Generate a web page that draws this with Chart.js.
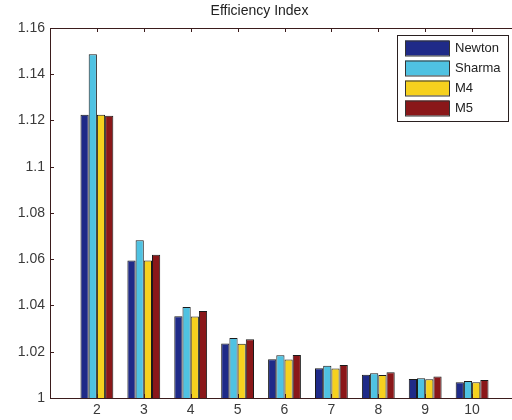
<!DOCTYPE html>
<html>
<head>
<meta charset="utf-8">
<script src="https://cdn.jsdelivr.net/npm/chart.js@4.4.1/dist/chart.umd.min.js"></script>
<style>
  html, body { margin: 0; padding: 0; background: #fff; overflow: hidden; }
  #wrap { width: 522px; height: 420px; }
</style>
</head>
<body>
<div id="wrap"><canvas id="mychart" width="522" height="420"></canvas></div>
<script>
// data
const categories = [2, 3, 4, 5, 6, 7, 8, 9, 10];
const newton = [1.1225, 1.0595, 1.0353, 1.0236, 1.0168, 1.0129, 1.0101, 1.0082, 1.0068];
const sharma = [1.1487, 1.0682, 1.0394, 1.0260, 1.0185, 1.0140, 1.0107, 1.0085, 1.0074];
const m4 = [1.1225, 1.0595, 1.0352, 1.0235, 1.0166, 1.0128, 1.0100, 1.0081, 1.0068];
const m5 = [1.1221, 1.0620, 1.0376, 1.0254, 1.0186, 1.0143, 1.0111, 1.0093, 1.0078];
const yTicks = [1, 1.02, 1.04, 1.06, 1.08, 1.1, 1.12, 1.14, 1.16];

const axisColor = '#3b1c1c';
const textColor = '#3a3a3a';

function series(vals) {
  return categories.map((c, i) => ({ x: c, y: vals[i] }));
}

// box, inward ticks and legend like the matlab figure
const matlabFrame = {
  id: 'matlabFrame',
  afterDraw(chart) {
    const ctx = chart.ctx;
    const a = chart.chartArea;
    const xs = chart.scales.x;
    const ys = chart.scales.y;
    ctx.save();
    ctx.strokeStyle = axisColor;
    ctx.lineWidth = 1;
    ctx.strokeRect(a.left + 0.5, a.top + 0.5, a.right - a.left, a.bottom - a.top);
    ctx.beginPath();
    categories.forEach(c => {
      const px = Math.round(xs.getPixelForValue(c)) + 0.5;
      ctx.moveTo(px, a.top);
      ctx.lineTo(px, a.top + 4);
      ctx.moveTo(px, a.bottom);
      ctx.lineTo(px, a.bottom - 4);
    });
    yTicks.forEach(v => {
      const py = Math.round(ys.getPixelForValue(v)) + 0.5;
      ctx.moveTo(a.left, py);
      ctx.lineTo(a.left + 4, py);
      ctx.moveTo(a.right, py);
      ctx.lineTo(a.right - 4, py);
    });
    ctx.stroke();

    // legend
    const bx = a.right - 122, by = a.top + 7, bw = 111, bh = 86;
    ctx.fillStyle = '#fff';
    ctx.fillRect(bx, by, bw, bh);
    ctx.strokeStyle = '#2a2020';
    ctx.strokeRect(bx + 0.5, by + 0.5, bw, bh);
    ctx.font = '13px "Liberation Sans", Arial, sans-serif';
    ctx.textBaseline = 'middle';
    chart.data.datasets.forEach((ds, i) => {
      const cy = by + 12.5 + i * 20;
      ctx.fillStyle = ds.backgroundColor;
      ctx.fillRect(bx + 8, cy - 7, 44, 15);
      ctx.strokeStyle = '#333';
      ctx.strokeRect(bx + 8.5, cy - 6.5, 44, 15);
      ctx.fillStyle = '#222';
      ctx.fillText(ds.label, bx + 58, cy + 1);
    });
    ctx.restore();
  }
};

const ctx1 = document.getElementById('mychart');
const chart1 = new Chart(ctx1, {
  type: 'bar',
  data: {
    datasets: [
      { label: 'Newton', data: series(newton), backgroundColor: '#1f2a88' },
      { label: 'Sharma', data: series(sharma), backgroundColor: '#4fc2e2' },
      { label: 'M4', data: series(m4), backgroundColor: '#f6d11e' },
      { label: 'M5', data: series(m5), backgroundColor: '#8a1719' }
    ]
  },
  options: {
    responsive: false,
    animation: false,
    layout: { padding: { left: 0, right: 3, top: 0, bottom: 0 } },
    datasets: {
      bar: {
        categoryPercentage: 0.7,
        barPercentage: 1.0,
        borderColor: '#1a1a1a',
        borderWidth: 1,
        borderSkipped: 'bottom'
      }
    },
    plugins: {
      legend: { display: false },
      tooltip: { enabled: false },
      title: {
        display: true,
        text: 'Efficiency Index',
        color: '#222',
        font: { family: '"Liberation Sans", Arial, sans-serif', size: 14, weight: 'normal', lineHeight: 1.2 },
        padding: { top: 3, bottom: 8.2 }
      }
    },
    scales: {
      x: {
        type: 'linear',
        min: 1,
        max: 11,
        offset: false,
        grid: { display: false, drawTicks: false },
        border: { display: true, color: axisColor },
        afterFit(scale) { scale.height = 22; },
        afterBuildTicks(scale) { scale.ticks = categories.map(v => ({ value: v })); },
        ticks: {
          color: textColor,
          padding: 4,
          font: { family: '"Liberation Sans", Arial, sans-serif', size: 14 },
          callback: v => String(v)
        }
      },
      y: {
        min: 1,
        max: 1.16,
        grid: { display: false, drawTicks: false },
        border: { display: true, color: axisColor },
        afterFit(scale) { scale.width = 50; },
        afterBuildTicks(scale) { scale.ticks = yTicks.map(v => ({ value: v })); },
        ticks: {
          color: textColor,
          padding: 5,
          font: { family: '"Liberation Sans", Arial, sans-serif', size: 14 },
          callback: v => String(+v.toFixed(2))
        }
      }
    }
  },
  plugins: [matlabFrame]
});
</script>
</body>
</html>
